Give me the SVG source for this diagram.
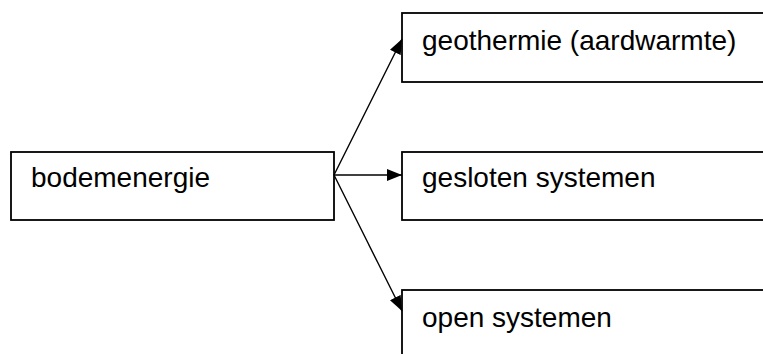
<svg xmlns="http://www.w3.org/2000/svg" width="763" height="354" viewBox="0 0 763 354">
  <style>
    .box { fill: #ffffff; stroke: #000000; stroke-width: 1.8; }
    .label { font-family: "Liberation Sans", Arial, Helvetica, sans-serif; font-size: 28px; fill: #000000; }
    .link { fill: none; stroke: #000000; stroke-width: 1.4; marker-end: url(#arrow); }
  </style>
  <defs>
    <marker id="arrow" markerUnits="userSpaceOnUse" markerWidth="15" markerHeight="12" refX="15" refY="6" orient="auto">
      <path d="M0,0 L15,6 L0,12 Z" fill="#000000"/>
    </marker>
  </defs>
  <rect width="763" height="354" fill="#ffffff"/>

  <g id="node-bodemenergie">
    <rect class="box" x="11" y="152" width="323" height="68"/>
    <text class="label" x="31" y="187">bodemenergie</text>
  </g>

  <g id="node-geothermie">
    <rect class="box" x="402" y="13" width="380" height="69"/>
    <text class="label" x="422" y="50">geothermie (aardwarmte)</text>
  </g>

  <g id="node-gesloten">
    <rect class="box" x="402" y="152" width="380" height="68"/>
    <text class="label" x="422" y="187">gesloten systemen</text>
  </g>

  <g id="node-open">
    <rect class="box" x="402" y="290" width="380" height="80"/>
    <text class="label" x="422" y="327">open systemen</text>
  </g>

  <g id="connectors">
    <line class="link" x1="334" y1="175" x2="402" y2="39"/>
    <line class="link" x1="334" y1="175" x2="402" y2="175"/>
    <line class="link" x1="334" y1="175" x2="402" y2="311"/>
  </g>
</svg>
